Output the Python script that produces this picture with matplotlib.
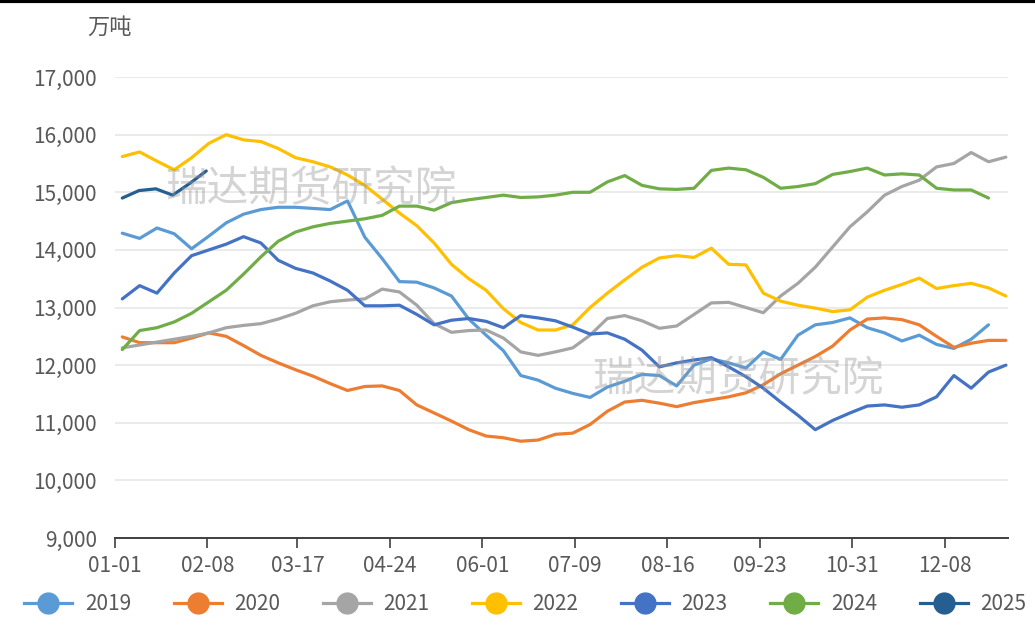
"""Weekly seasonal stock chart (万吨), 2019-2025, one line per year."""

import numpy as np
import matplotlib
matplotlib.use("Agg")
from matplotlib import pyplot as plt
from matplotlib.lines import Line2D


# =============================================================================
# Data
# =============================================================================
years = ['2019', '2020', '2021', '2022', '2023', '2024', '2025']

v2019 = [14290, 14200, 14380, 14280, 14020, 14240, 14470, 14620, 14700, 14740,
         14740, 14720, 14700, 14850, 14220, 13850, 13450, 13440, 13340, 13200,
         12800, 12520, 12250, 11820, 11740, 11600, 11510, 11440, 11620, 11720,
         11840, 11820, 11640, 12000, 12110, 12040, 11950, 12230, 12100, 12520,
         12700, 12740, 12820, 12650, 12560, 12420, 12520, 12360, 12290, 12450,
         12700]
v2020 = [12490, 12390, 12390, 12390, 12470, 12560, 12500, 12340, 12170, 12040,
         11920, 11810, 11680, 11560, 11630, 11640, 11560, 11310, 11170, 11030,
         10880, 10770, 10740, 10680, 10700, 10800, 10820, 10970, 11200, 11360,
         11390, 11340, 11280, 11350, 11400, 11450, 11520, 11660, 11850, 12000,
         12150, 12330, 12610, 12800, 12820, 12790, 12700, 12500, 12310, 12380,
         12430, 12430]
v2021 = [12300, 12350, 12400, 12450, 12500, 12560, 12650, 12690, 12720, 12800,
         12900, 13030, 13100, 13130, 13150, 13320, 13270, 13040, 12720, 12570,
         12600, 12610, 12470, 12230, 12170, 12230, 12300, 12520, 12810, 12860,
         12770, 12640, 12680, 12880, 13080, 13090, 13000, 12910, 13200, 13420,
         13700, 14050, 14400, 14660, 14950, 15100, 15210, 15440, 15500, 15690,
         15530, 15610]
v2022 = [15620, 15700, 15540, 15390, 15600, 15850, 16000, 15910, 15880, 15760,
         15600, 15530, 15440, 15300, 15120, 14880, 14640, 14420, 14120, 13750,
         13500, 13300, 12980, 12740, 12610, 12610, 12700, 13000, 13250, 13480,
         13700, 13860, 13900, 13870, 14030, 13750, 13740, 13250, 13110, 13040,
         12990, 12930, 12960, 13180, 13300, 13400, 13510, 13330, 13380, 13420,
         13340, 13200]
v2023 = [13150, 13380, 13250, 13600, 13900, 14000, 14100, 14230, 14120, 13820,
         13680, 13600, 13460, 13300, 13030, 13030, 13040, 12880, 12700, 12780,
         12810, 12760, 12650, 12860, 12820, 12770, 12660, 12540, 12560, 12450,
         12260, 11970, 12040, 12090, 12130, 11970, 11800, 11600, 11360, 11130,
         10880, 11040, 11170, 11290, 11310, 11270, 11310, 11450, 11820, 11600,
         11880, 12000]
v2024 = [12270, 12600, 12650, 12750, 12900, 13100, 13300, 13580, 13880, 14150,
         14310, 14400, 14460, 14500, 14540, 14600, 14760, 14760, 14690, 14820,
         14870, 14910, 14950, 14910, 14920, 14950, 15000, 15000, 15180, 15290,
         15120, 15060, 15050, 15070, 15380, 15420, 15390, 15260, 15070, 15100,
         15150, 15310, 15360, 15420, 15300, 15320, 15300, 15070, 15040, 15040,
         14900]
v2025 = [14900, 15030, 15060, 14950, 15150, 15370]

series = [v2019, v2020, v2021, v2022, v2023, v2024, v2025]
colors = ['#5B9BD5', '#ED7D31', '#A5A5A5', '#FFC000', '#4472C4', '#70AD47',
          '#255E91']

tick_days = [0, 38, 75, 113, 151, 189, 227, 265, 303, 341]
tick_labels = ['01-01', '02-08', '03-17', '04-24', '06-01', '07-09', '08-16',
               '09-23', '10-31', '12-08']
yticks = [9000, 10000, 11000, 12000, 13000, 14000, 15000, 16000, 17000]


# =============================================================================
# Plot parameters
# =============================================================================
plt.rcParams['font.family'] = ['Noto Sans CJK SC', 'DejaVu Sans']
text_color = '#595959'
fontsize = 15

fig = plt.figure(figsize=(10.35, 6.32), dpi=100)
ax = fig.add_axes([0.1111, 0.1487, 0.8628, 0.7294])

# Weekly sample positions on the day-of-year axis (2025 runs a bit tighter)
for vals, color, year in zip(series, colors, years):
    step = 6.9 if year == '2025' else 7.12
    days = 3 + step * np.arange(len(vals))
    ax.plot(days, vals, color=color, linewidth=2.3, label=year,
        solid_joinstyle='round', solid_capstyle='round')

# Watermarks
for wx, wy in [(311, 190), (738, 380)]:
    fig.text(wx / 1035, 1 - wy / 632, '瑞达期货研究院', fontsize=30,
        color='#9a9a9a', alpha=0.42, ha='center', va='center', zorder=10)

# x-axis parameters
ax.set_xlim(0, 367)
ax.set_xticks(tick_days)
ax.set_xticklabels(tick_labels)
ax.tick_params(axis='x', colors='#404040', length=7, width=1.2,
    labelcolor=text_color, labelsize=fontsize, pad=5)

# y-axis parameters
ax.set_ylim(9000, 17000)
ax.set_yticks(yticks)
ax.set_yticklabels([f'{v:,}' for v in yticks])
ax.tick_params(axis='y', length=0, labelcolor=text_color,
    labelsize=fontsize, pad=13)
ax.yaxis.grid(True, color='#E8E8E8', linewidth=1.2)
ax.set_axisbelow(True)

for side in ['top', 'right', 'left']:
    ax.spines[side].set_visible(False)
ax.spines['bottom'].set_color('#404040')
ax.spines['bottom'].set_linewidth(1.4)

# Unit label
fig.text(87 / 1035, 1 - 27 / 632, '万吨', fontsize=16, color=text_color,
    ha='left', va='center')

# Legend (line with circle marker, as in the original)
handles = [Line2D([], [], color=c, linewidth=2.3, marker='o', markersize=15)
           for c in colors]
fig.legend(handles, years, loc='center left', ncol=7,
    bbox_to_anchor=(16 / 1035, 1 - 604 / 632), frameon=False,
    fontsize=fontsize, labelcolor=text_color, handlelength=2.3,
    handletextpad=0.6, columnspacing=2.05, borderaxespad=0)

# Thin dark border along the top edge
fig.add_artist(Line2D([0, 1], [0.998, 0.998], color='black', linewidth=3,
    transform=fig.transFigure))

fig.savefig('out.png', dpi=100)
plt.close()
